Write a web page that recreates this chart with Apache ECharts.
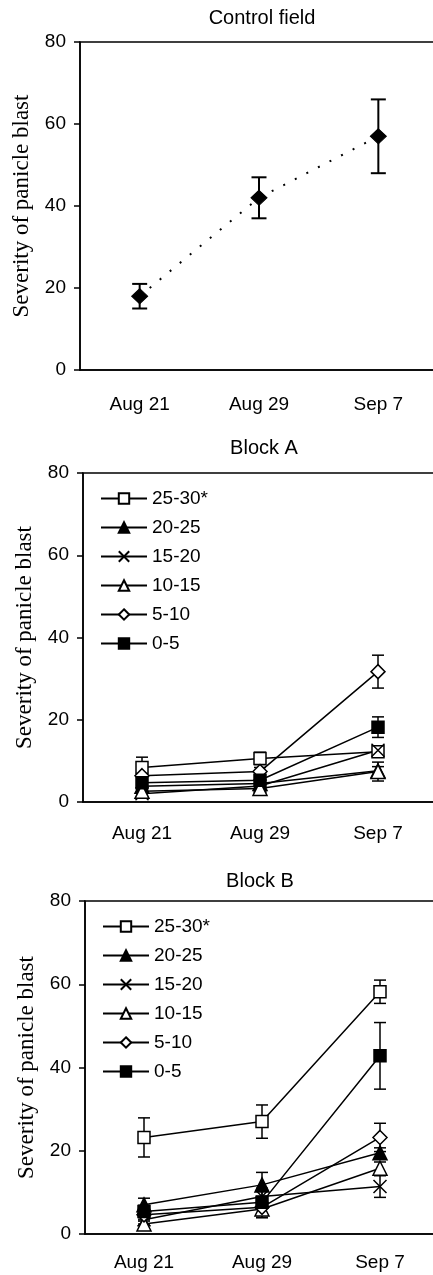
<!DOCTYPE html>
<html>
<head>
<meta charset="utf-8">
<script src="https://cdn.jsdelivr.net/npm/echarts@6/dist/echarts.min.js"></script>
<style>
  html, body { margin: 0; padding: 0; background: #fff; }
  #chart { width: 433px; height: 1275px; }
</style>
</head>
<body>
<div id="chart"></div>
<script>
// categories and tick values
const dates = ['Aug 21', 'Aug 29', 'Sep 7'];
const yMin = 0, yMax = 80, yStep = 20;
const groups = ['25-30*', '20-25', '15-20', '10-15', '5-10', '0-5'];

// Control field
const controlMean = [18, 42, 57];
const controlErr = [3, 5, 9];

// Block A (mean, error)
const a2530 = [8.4, 10.6, 12.2], a2530Err = [2.5, 1.5, 1];
const a2025 = [3.8, 4.5, 7.6], a2025Err = [1, 1, 1];
const a1520 = [2.0, 3.9, 12.6], a1520Err = [1, 1, 1];
const a1015 = [2.6, 3.3, 7.4], a1015Err = [1, 1, 2.3];
const a510 = [6.4, 7.4, 31.7], a510Err = [1, 1, 4];
const a05 = [4.7, 5.3, 18.2], a05Err = [1, 1, 2.5];

// Block B (mean, error)
const b2530 = [23.2, 27, 58.2], b2530Err = [4.7, 4, 2.8];
const b2025 = [7.0, 11.8, 19.5], b2025Err = [1.6, 3, 1.2];
const b1520 = [3.4, 9.0, 11.4], b1520Err = [1, 2, 2.6];
const b1015 = [2.4, 6.0, 15.8], b1015Err = [1, 2, 1.5];
const b510 = [4.6, 6.4, 23.2], b510Err = [1.5, 2.5, 3.4];
const b05 = [5.4, 7.6, 42.8], b05Err = [1.5, 1.5, 8];

const sans = 'Liberation Sans, Arial, sans-serif';
const serif = 'Liberation Serif, Times New Roman, serif';

// marker style per group
const markers = {
    '25-30*': { symbol: 'rect', size: 12, fill: '#fff' },
    '20-25': { symbol: 'triangle', size: 14, fill: '#000' },
    '15-20': { symbol: 'path://M0,0L12,12M12,0L0,12', size: 13, fill: 'transparent' },
    '10-15': { symbol: 'triangle', size: 14, fill: '#fff' },
    '5-10': { symbol: 'diamond', size: 14, fill: '#fff' },
    '0-5': { symbol: 'rect', size: 12, fill: '#000' }
};

const grids = [
    { left: 80, top: 42, width: 358, height: 328 },
    { left: 83, top: 473, width: 354, height: 329 },
    { left: 85, top: 901, width: 354, height: 333 }
];
const labelMargins = [25, 22, 19];

function errBars(means, errs, gi, cap, lw) {
    return {
        type: 'custom',
        xAxisIndex: gi,
        yAxisIndex: gi,
        z: 1,
        silent: true,
        data: means.map((m, i) => [i, m - errs[i], m + errs[i]]),
        renderItem: function (params, api) {
            const lo = api.coord([api.value(0), api.value(1)]);
            const hi = api.coord([api.value(0), api.value(2)]);
            const h = cap / 2;
            const st = { stroke: '#000', lineWidth: lw };
            return {
                type: 'group',
                children: [
                    { type: 'line', shape: { x1: hi[0], y1: hi[1], x2: lo[0], y2: lo[1] }, style: st },
                    { type: 'line', shape: { x1: hi[0] - h, y1: hi[1], x2: hi[0] + h, y2: hi[1] }, style: st },
                    { type: 'line', shape: { x1: lo[0] - h, y1: lo[1], x2: lo[0] + h, y2: lo[1] }, style: st }
                ]
            };
        }
    };
}

function groupLine(name, data, gi) {
    const m = markers[name];
    return {
        name: name,
        type: 'line',
        xAxisIndex: gi,
        yAxisIndex: gi,
        z: 3,
        data: data,
        symbol: m.symbol,
        symbolSize: m.size,
        showAllSymbol: true,
        lineStyle: { color: '#000', width: 1.5 },
        itemStyle: { color: m.fill, borderColor: '#000', borderWidth: 1.5 }
    };
}

const blockA = [[a2530, a2530Err], [a2025, a2025Err], [a1520, a1520Err], [a1015, a1015Err], [a510, a510Err], [a05, a05Err]];
const blockB = [[b2530, b2530Err], [b2025, b2025Err], [b1520, b1520Err], [b1015, b1015Err], [b510, b510Err], [b05, b05Err]];

const series = [];
series.push(errBars(controlMean, controlErr, 0, 15, 2));
series.push({
    name: 'Control',
    type: 'line',
    xAxisIndex: 0,
    yAxisIndex: 0,
    z: 3,
    data: controlMean,
    symbol: 'diamond',
    symbolSize: [16, 15],
    lineStyle: { color: '#000', width: 2, type: [2, 11] },
    itemStyle: { color: '#000', borderColor: '#000', borderWidth: 1 }
});
blockA.forEach((d, i) => {
    series.push(errBars(d[0], d[1], 1, 12, 1.5));
    series.push(groupLine(groups[i], d[0], 1));
});
blockB.forEach((d, i) => {
    series.push(errBars(d[0], d[1], 2, 12, 1.5));
    series.push(groupLine(groups[i], d[0], 2));
});

const chart = echarts.init(document.getElementById('chart'), null, { renderer: 'canvas' });
chart.setOption({
    animation: false,
    backgroundColor: '#fff',
    graphic: [
        { type: 'text', x: 262, y: 18, style: { text: 'Control field', font: '20px ' + sans, fill: '#000', align: 'center', verticalAlign: 'middle' } },
        { type: 'text', x: 264, y: 448, style: { text: 'Block A', font: '20px ' + sans, fill: '#000', align: 'center', verticalAlign: 'middle' } },
        { type: 'text', x: 260, y: 881, style: { text: 'Block B', font: '20px ' + sans, fill: '#000', align: 'center', verticalAlign: 'middle' } }
    ],
    grid: grids.map(g => Object.assign({
        show: true,
        borderColor: '#000',
        borderWidth: 1.5,
        backgroundColor: 'transparent',
        containLabel: false,
        outerBoundsMode: 'none'
    }, g)),
    legend: [
        { top: 484, left: 95 },
        { top: 912, left: 97 }
    ].map(p => ({
        orient: 'vertical',
        top: p.top,
        left: p.left,
        itemWidth: 46,
        itemHeight: 13,
        itemGap: 10,
        selectedMode: false,
        textStyle: { fontSize: 19, color: '#000', fontFamily: sans },
        data: groups
    })),
    xAxis: grids.map((g, i) => ({
        type: 'category',
        gridIndex: i,
        data: dates,
        boundaryGap: true,
        axisLine: { lineStyle: { color: '#000', width: 1.5 } },
        axisTick: { inside: false, length: 7, lineStyle: { color: '#000', width: 1.5 } },
        axisLabel: { color: '#000', fontSize: 19, fontFamily: sans, margin: labelMargins[i] },
        splitLine: { show: false }
    })),
    yAxis: grids.map((g, i) => ({
        type: 'value',
        gridIndex: i,
        min: yMin,
        max: yMax,
        interval: yStep,
        name: 'Severity of panicle blast',
        nameLocation: 'middle',
        nameGap: 47,
        nameTextStyle: { fontFamily: serif, fontSize: 23, color: '#000' },
        axisLine: { show: true, lineStyle: { color: '#000', width: 1.5 } },
        axisTick: { show: true, inside: false, length: 6, lineStyle: { color: '#000', width: 1.5 } },
        axisLabel: { color: '#000', fontSize: 19, fontFamily: sans, margin: 14 },
        splitLine: { show: false }
    })),
    series: series
});
</script>
</body>
</html>
